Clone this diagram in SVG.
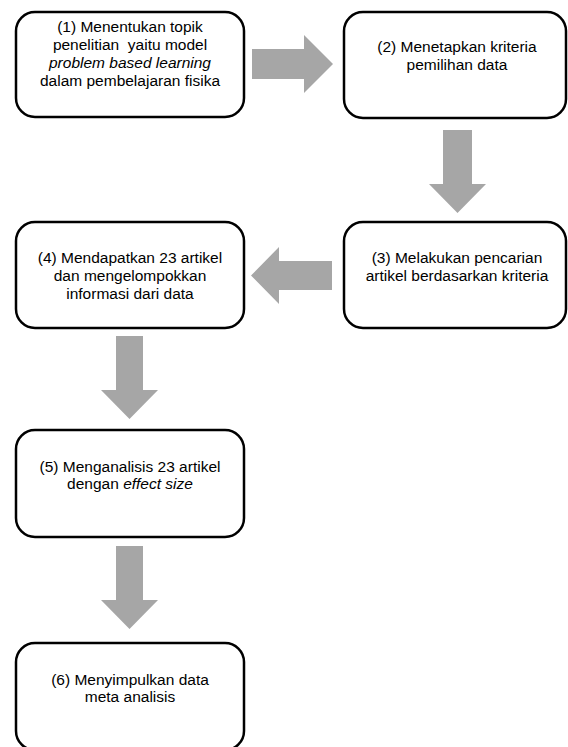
<svg xmlns="http://www.w3.org/2000/svg" width="568" height="747" viewBox="0 0 568 747">
<style>
.box{fill:#ffffff;stroke:#000000;stroke-width:2.5}
.arr{fill:#a6a6a6;stroke:none}
text{font-family:"Liberation Sans",Arial,sans-serif;font-size:15.5px;fill:#000000;text-anchor:middle}
.it{font-style:italic}
</style>
<rect x="0" y="0" width="568" height="747" fill="#ffffff"/>
<g id="connectors">
<polygon class="arr" points="252,49 304,49 304,35 333,64 304,93 304,79 252,79"/>
<polygon class="arr" points="443,130 472,130 472,184 486,184 457.5,213 429,184 443,184"/>
<polygon class="arr" points="332,261 279,261 279,247 251,275.5 279,304 279,290 332,290"/>
<polygon class="arr" points="116,336 143,336 143,390 158,390 129.5,419 101,390 116,390"/>
<polygon class="arr" points="116,546 143,546 143,600 158,600 129.5,629 101,600 116,600"/>
</g>
<g id="node1">
<rect class="box" x="16" y="12" width="228" height="105" rx="19"/>
<text x="130" y="32">(1) Menentukan topik</text>
<text x="130" y="50" xml:space="preserve">penelitian  yaitu model</text>
<text x="130" y="68" class="it">problem based learning</text>
<text x="130" y="86">dalam pembelajaran fisika</text>
</g>
<g id="node2">
<rect class="box" x="344" y="12" width="222" height="106" rx="19"/>
<text x="457" y="52">(2) Menetapkan kriteria</text>
<text x="457" y="70">pemilihan data</text>
</g>
<g id="node3">
<rect class="box" x="344" y="222" width="222" height="106" rx="19"/>
<text x="457" y="263">(3) Melakukan pencarian</text>
<text x="457" y="281">artikel berdasarkan kriteria</text>
</g>
<g id="node4">
<rect class="box" x="16" y="222" width="228" height="106" rx="19"/>
<text x="130" y="263">(4) Mendapatkan 23 artikel</text>
<text x="130" y="281">dan mengelompokkan</text>
<text x="130" y="299">informasi dari data</text>
</g>
<g id="node5">
<rect class="box" x="16" y="430" width="228" height="107" rx="19"/>
<text x="130" y="472">(5) Menganalisis 23 artikel</text>
<text x="130" y="489">dengan <tspan class="it">effect size</tspan></text>
</g>
<g id="node6">
<rect class="box" x="16" y="643" width="228" height="107" rx="19"/>
<text x="130" y="685">(6) Menyimpulkan data</text>
<text x="130" y="702">meta analisis</text>
</g>
</svg>
